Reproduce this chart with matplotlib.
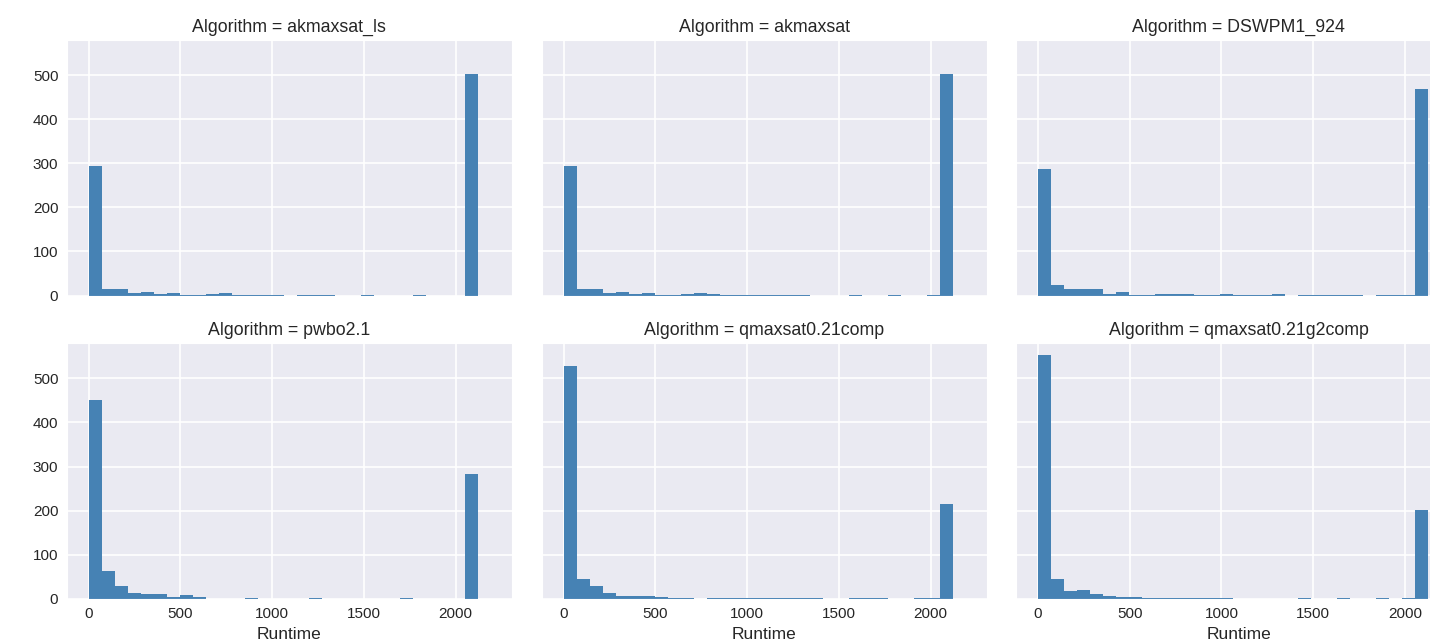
import numpy as np
import matplotlib
matplotlib.use("Agg")
import matplotlib.pyplot as plt
import seaborn as sns

# Runtime histograms per algorithm (30 bins, counts)
algorithms = ["akmaxsat_ls", "akmaxsat", "DSWPM1_924",
              "pwbo2.1", "qmaxsat0.21comp", "qmaxsat0.21g2comp"]

runtime_max = 2124
n_bins = 30

counts_akmaxsat_ls = [294, 14, 14, 6, 9, 4, 6, 2, 2, 4, 6, 2, 2, 2, 2,
                      0, 1, 1, 1, 0, 0, 1, 0, 0, 0, 1, 0, 0, 0, 502]
counts_akmaxsat = [294, 14, 14, 6, 9, 4, 6, 1, 1, 4, 6, 4, 1, 1, 1,
                   1, 1, 1, 1, 0, 0, 0, 1, 0, 0, 1, 0, 0, 1, 502]
counts_dswpm1 = [286, 24, 14, 14, 14, 4, 9, 1, 1, 3, 3, 3, 1, 1, 3,
                 1, 1, 1, 3, 0, 1, 1, 1, 1, 1, 0, 1, 1, 1, 468]
counts_pwbo = [452, 63, 28, 14, 12, 10, 5, 8, 3, 0, 0, 0, 2, 0, 0,
               0, 0, 2, 0, 0, 0, 0, 0, 0, 2, 0, 0, 0, 0, 283]
counts_qmaxsat_comp = [527, 45, 28, 14, 7, 7, 7, 4, 2, 2, 0, 2, 2, 1, 1,
                       1, 1, 1, 1, 1, 0, 0, 1, 1, 1, 0, 0, 1, 1, 214]
counts_qmaxsat_g2comp = [552, 45, 17, 20, 10, 7, 5, 5, 2, 2, 2, 2, 2, 2, 2,
                         0, 0, 0, 0, 0, 1, 0, 0, 1, 0, 0, 1, 0, 1, 202]

all_counts = [counts_akmaxsat_ls, counts_akmaxsat, counts_dswpm1,
              counts_pwbo, counts_qmaxsat_comp, counts_qmaxsat_g2comp]

sns.set_style("darkgrid")
plt.rcParams["font.family"] = ["Liberation Sans", "DejaVu Sans"]

fig = plt.figure(figsize=(14.3, 6.4), dpi=100)
W, H = 1430.0, 640.0

# panel layout in pixels (the right column runs past the edge, like the original)
col_left = [66.7, 541.7, 1016.0]
ax_w = 445.0
row_top = [40.0, 343.3]
ax_h = 255.5

edges = np.linspace(0, runtime_max, n_bins + 1)
axes = []
first = None
for i, (name, counts) in enumerate(zip(algorithms, all_counts)):
    r, c = divmod(i, 3)
    rect = [col_left[c] / W, 1 - (row_top[r] + ax_h) / H, ax_w / W, ax_h / H]
    if first is None:
        ax = fig.add_axes(rect)
        first = ax
    else:
        ax = fig.add_axes(rect, sharex=first, sharey=first)
    ax.hist(edges[:-1], bins=edges, weights=counts, color="steelblue",
            edgecolor="none", linewidth=0)
    ax.set_title(f"Algorithm = {name}", fontsize=12.8, color=".15")
    ax.tick_params(labelsize=11, colors=".15", length=0, pad=6)
    ax.grid(linewidth=1.2)
    if r == 0:
        ax.tick_params(labelbottom=False)
    else:
        ax.set_xlabel("Runtime", fontsize=12.5, color=".15", labelpad=4)
    if c != 0:
        ax.tick_params(labelleft=False)
    axes.append(ax)

first.set_xlim(-120, 2306)
first.set_xticks([0, 500, 1000, 1500, 2000])
first.set_yticks([0, 100, 200, 300, 400, 500])

fig.savefig("out.png", dpi=100)
